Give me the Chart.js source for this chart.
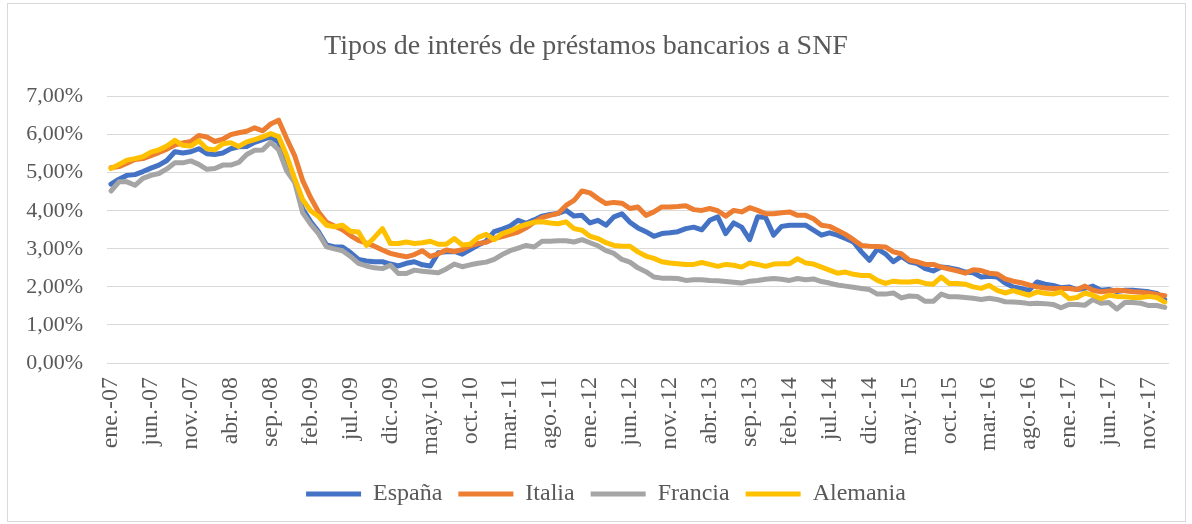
<!DOCTYPE html>
<html>
<head>
<meta charset="utf-8">
<script src="https://cdn.jsdelivr.net/npm/chart.js@4.4.1/dist/chart.umd.min.js"></script>
<style>
  body { margin: 0; background: #fff; }
  #wrap { position: relative; width: 1192px; height: 524px; }
  #frame { position: absolute; left: 7px; top: 3px; width: 1177px; height: 517px; border: 1px solid #d9d9d9; pointer-events: none; }
  canvas { position: absolute; left: 0; top: 0; }
</style>
</head>
<body>
<div id="wrap">
  <canvas id="chart" width="1192" height="524"></canvas>
  <div id="frame"></div>
</div>
<script>
// meses ene-07 .. ene-18
const meses = ['ene.', 'feb.', 'mar.', 'abr.', 'may.', 'jun.', 'jul.', 'ago.', 'sep.', 'oct.', 'nov.', 'dic.'];
const anios = ['07', '08', '09', '10', '11', '12', '13', '14', '15', '16', '17', '18'];
let labels = [];
anios.forEach(a => meses.forEach(m => labels.push(m + '-' + a)));
labels = labels.slice(0, 133);

const espana = [
  4.70, 4.83, 4.93, 4.95, 5.03, 5.12, 5.20, 5.32, 5.55, 5.52, 5.55, 5.63, 5.50, 5.48, 5.52, 5.63, 5.68, 5.69, 5.80, 5.87,
  5.94, 5.80, 5.15, 4.80, 4.05, 3.72, 3.45, 3.10, 3.05, 3.05, 2.90, 2.72, 2.68, 2.66, 2.66, 2.60, 2.55, 2.62, 2.66, 2.58,
  2.55, 2.90, 2.92, 2.93, 2.86, 2.98, 3.10, 3.20, 3.45, 3.52, 3.60, 3.75, 3.67, 3.76, 3.86, 3.90, 3.93, 4.01, 3.86, 3.88,
  3.68, 3.75, 3.62, 3.84, 3.92, 3.70, 3.55, 3.45, 3.33, 3.40, 3.42, 3.45, 3.53, 3.57, 3.50, 3.75, 3.84, 3.40, 3.68, 3.57,
  3.24, 3.84, 3.82, 3.36, 3.59, 3.62, 3.62, 3.62, 3.49, 3.36, 3.42, 3.36, 3.27, 3.18, 2.92, 2.70, 3.00, 2.87, 2.66, 2.80,
  2.66, 2.61, 2.48, 2.42, 2.52, 2.50, 2.46, 2.39, 2.37, 2.26, 2.28, 2.26, 2.10, 2.00, 1.96, 1.91, 2.13, 2.07, 2.04, 1.98,
  2.00, 1.93, 1.96, 2.02, 1.91, 1.93, 1.88, 1.91, 1.91, 1.89, 1.87, 1.83, 1.67
];
const italia = [
  5.13, 5.16, 5.25, 5.35, 5.37, 5.45, 5.53, 5.62, 5.73, 5.78, 5.82, 5.98, 5.94, 5.82, 5.88, 6.00, 6.05, 6.09, 6.18, 6.10,
  6.28, 6.38, 5.90, 5.45, 4.80, 4.35, 3.97, 3.70, 3.60, 3.50, 3.35, 3.22, 3.15, 3.07, 2.97, 2.88, 2.83, 2.79, 2.85, 2.95,
  2.80, 2.87, 2.97, 2.93, 2.98, 3.08, 3.14, 3.17, 3.27, 3.32, 3.38, 3.44, 3.55, 3.70, 3.82, 3.88, 3.93, 4.14, 4.27, 4.52,
  4.47, 4.32, 4.19, 4.22, 4.20, 4.06, 4.10, 3.88, 3.97, 4.10, 4.10, 4.11, 4.13, 4.03, 4.01, 4.06, 4.00, 3.86, 4.01, 3.97,
  4.08, 4.01, 3.92, 3.92, 3.95, 3.97, 3.88, 3.88, 3.79, 3.62, 3.59, 3.49, 3.38, 3.24, 3.09, 3.07, 3.06, 3.05, 2.92, 2.87,
  2.70, 2.66, 2.59, 2.59, 2.52, 2.47, 2.42, 2.36, 2.45, 2.43, 2.36, 2.34, 2.21, 2.15, 2.11, 2.05, 2.00, 1.97, 1.96, 1.96,
  1.96, 1.93, 2.02, 1.91, 1.87, 1.89, 1.91, 1.90, 1.87, 1.86, 1.84, 1.80, 1.77
];
const francia = [
  4.52, 4.76, 4.76, 4.67, 4.85, 4.93, 4.98, 5.10, 5.26, 5.26, 5.31, 5.22, 5.09, 5.11, 5.20, 5.20, 5.27, 5.48, 5.59, 5.60,
  5.80, 5.60, 5.05, 4.75, 3.95, 3.65, 3.40, 3.05, 3.00, 2.95, 2.80, 2.62, 2.55, 2.50, 2.48, 2.57, 2.35, 2.35, 2.44, 2.41,
  2.39, 2.37, 2.47, 2.60, 2.53, 2.58, 2.62, 2.65, 2.72, 2.85, 2.95, 3.02, 3.09, 3.05, 3.20, 3.20, 3.21, 3.21, 3.18, 3.24,
  3.16, 3.08, 2.95, 2.88, 2.72, 2.65, 2.50, 2.40, 2.26, 2.23, 2.23, 2.22, 2.17, 2.19, 2.19, 2.17, 2.16, 2.14, 2.12, 2.10,
  2.15, 2.17, 2.20, 2.22, 2.20, 2.17, 2.22, 2.19, 2.21, 2.14, 2.10, 2.05, 2.02, 1.99, 1.96, 1.93, 1.81, 1.81, 1.84, 1.71,
  1.76, 1.75, 1.62, 1.62, 1.81, 1.74, 1.74, 1.72, 1.70, 1.67, 1.70, 1.67, 1.61, 1.60, 1.59, 1.56, 1.57, 1.56, 1.54, 1.45,
  1.54, 1.54, 1.52, 1.67, 1.57, 1.59, 1.42, 1.59, 1.59, 1.57, 1.51, 1.51, 1.46
];
const alemania = [
  5.11, 5.22, 5.33, 5.37, 5.42, 5.54, 5.60, 5.70, 5.85, 5.72, 5.70, 5.84, 5.63, 5.60, 5.76, 5.79, 5.69, 5.81, 5.87, 5.94,
  6.03, 5.95, 5.45, 4.85, 4.30, 4.00, 3.85, 3.62, 3.58, 3.62, 3.46, 3.44, 3.09, 3.30, 3.53, 3.14, 3.14, 3.18, 3.14, 3.16,
  3.20, 3.12, 3.12, 3.27, 3.10, 3.12, 3.30, 3.38, 3.24, 3.40, 3.47, 3.57, 3.64, 3.70, 3.71, 3.68, 3.66, 3.71, 3.53, 3.49,
  3.33, 3.27, 3.16, 3.09, 3.07, 3.07, 2.92, 2.81, 2.75, 2.66, 2.63, 2.61, 2.59, 2.59, 2.64, 2.59, 2.54, 2.59, 2.57, 2.52,
  2.63, 2.59, 2.54, 2.60, 2.61, 2.61, 2.74, 2.63, 2.60, 2.52, 2.44, 2.36, 2.39, 2.33, 2.30, 2.30, 2.17, 2.09, 2.15, 2.13,
  2.13, 2.15, 2.09, 2.07, 2.26, 2.09, 2.09, 2.07, 2.00, 1.96, 2.04, 1.91, 1.84, 1.90, 1.84, 1.78, 1.87, 1.83, 1.81, 1.87,
  1.69, 1.72, 1.84, 1.78, 1.69, 1.78, 1.75, 1.74, 1.72, 1.72, 1.75, 1.72, 1.60
];

const yTicks = [0, 1, 2, 3, 4, 5, 6, 7];
const textColor = '#595959';
const serif = '"Liberation Serif", "Times New Roman", serif';

function serie(label, data, color, order) {
  return {
    label: label,
    data: data,
    borderColor: color,
    backgroundColor: color,
    borderWidth: 5,
    pointRadius: 0,
    tension: 0,
    borderJoinStyle: 'round',
    borderCapStyle: 'round',
    order: order
  };
}

// the Excel legend sits a bit right of the canvas centre
const legendShift = {
  id: 'legendShift',
  afterLayout(c) {
    c.legend.left += 20;
    c.legend.right += 20;
  }
};

const ctx = document.getElementById('chart').getContext('2d');
const chart = new Chart(ctx, {
  type: 'line',
  data: {
    labels: labels,
    datasets: [
      serie('España', espana, '#4472C4', 4),
      serie('Italia', italia, '#ED7D31', 3),
      serie('Francia', francia, '#A5A5A5', 2),
      serie('Alemania', alemania, '#FFC000', 1)
    ]
  },
  plugins: [legendShift],
  options: {
    responsive: false,
    animation: false,
    devicePixelRatio: 1,
    layout: { padding: { left: 0, right: 20, top: 0, bottom: 8 } },
    plugins: {
      tooltip: { enabled: false },
      title: {
        display: true,
        text: 'Tipos de interés de préstamos bancarios a SNF',
        color: textColor,
        font: { family: serif, size: 28, weight: 'normal' },
        padding: { top: 30, bottom: 33 }
      },
      legend: {
        position: 'bottom',
        labels: {
          color: textColor,
          font: { family: serif, size: 24 },
          boxWidth: 55,
          boxHeight: 5,
          padding: 16,
          sort: (a, b) => a.datasetIndex - b.datasetIndex,
          generateLabels: c => Chart.defaults.plugins.legend.labels.generateLabels(c)
            .map(l => Object.assign(l, { lineWidth: 0, fillStyle: l.strokeStyle }))
        }
      }
    },
    scales: {
      x: {
        offset: true,
        grid: { display: false, drawTicks: false },
        border: { display: true, color: '#d9d9d9' },
        ticks: {
          autoSkip: false,
          minRotation: 90,
          maxRotation: 90,
          padding: 14,
          color: textColor,
          font: { family: serif, size: 24 },
          callback: (v, i) => (i % 5 === 0 ? labels[i] : null)
        },
        afterFit: s => { s.height = 103; }
      },
      y: {
        min: 0,
        max: 7,
        afterBuildTicks: s => { s.ticks = yTicks.map(v => ({ value: v })); },
        grid: { color: '#d9d9d9', lineWidth: 1, drawTicks: false },
        border: { display: false },
        ticks: {
          padding: 24,
          color: textColor,
          font: { family: serif, size: 22 },
          callback: v => v.toFixed(2).replace('.', ',') + '%'
        },
        afterFit: s => { s.width = 107; }
      }
    }
  }
});
</script>
</body>
</html>
